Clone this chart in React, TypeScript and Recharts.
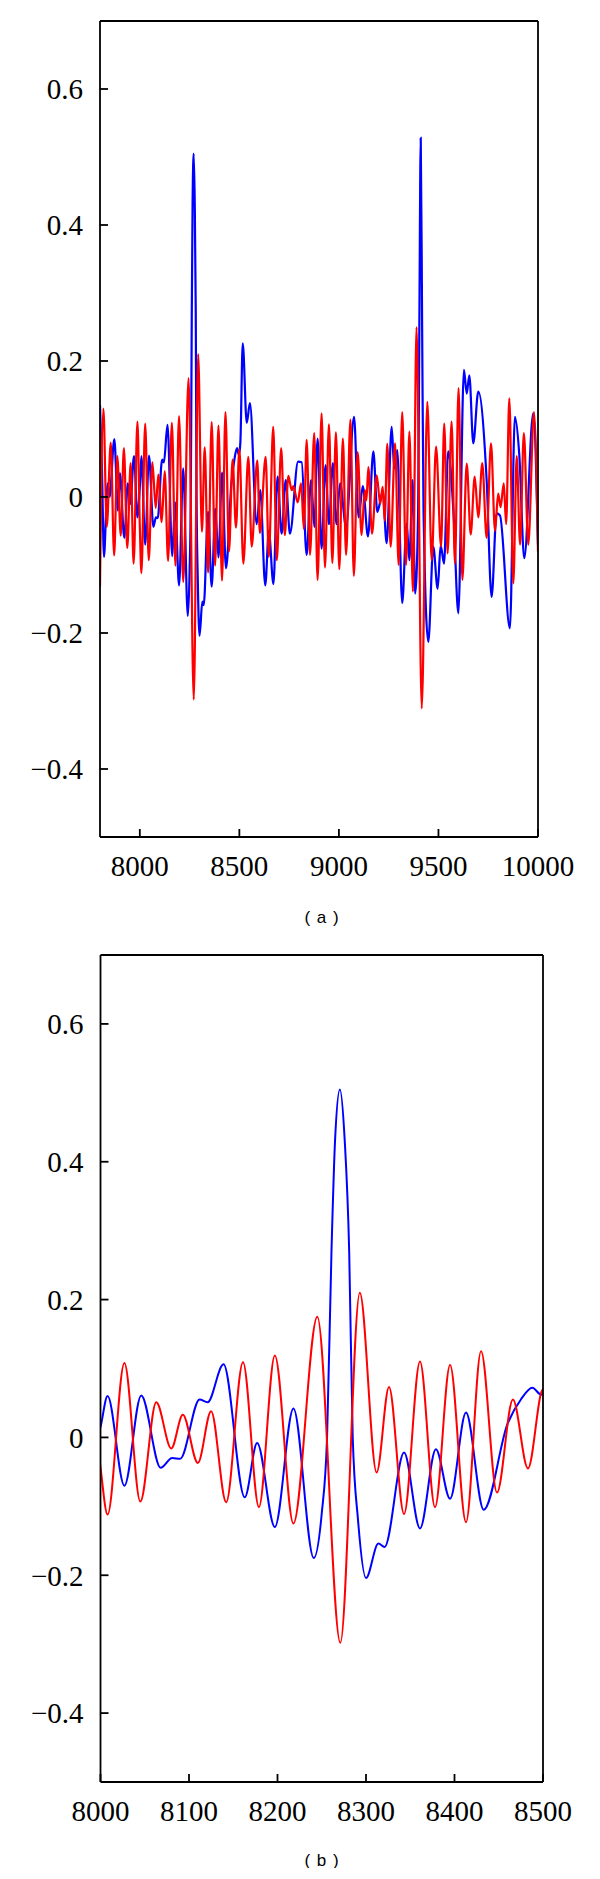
import React from "react";
import { LineChart, Line, XAxis, YAxis } from "recharts";

// ---- data ----
const blueX = [
  7800, 7810, 7820, 7832, 7838, 7848, 7872, 7890, 7900, 7922, 7940, 7952, 7971, 7988,
  8000, 8008, 8027, 8046, 8068, 8081, 8090, 8112, 8121, 8139, 8163, 8177, 8197, 8218,
  8241, 8250, 8256, 8261, 8265, 8270.5, 8276, 8281, 8285, 8291, 8300, 8314, 8321, 8343,
  8361, 8379, 8395, 8413, 8433, 8460, 8475, 8488, 8498, 8505, 8517, 8537, 8553, 8587,
  8605, 8630, 8648, 8671, 8692, 8712, 8733, 8754, 8795, 8813, 8838, 8860, 8877, 8893,
  8913, 8933, 8950, 8970, 8988, 9006, 9036, 9076, 9099, 9120, 9146, 9173, 9193, 9220,
  9240, 9265, 9278, 9293, 9318, 9340, 9354, 9370, 9383, 9398, 9404, 9411, 9418, 9425,
  9449, 9474, 9496, 9511, 9528, 9549, 9575, 9600, 9628, 9642, 9655, 9675, 9700, 9742,
  9767, 9792, 9809, 9859, 9884, 9906, 9931, 9976, 10000,
];
const blueY = [
  0.135, 0.04, -0.088, -0.01, 0.02, 0.0, 0.085, -0.02, 0.035, -0.06, 0.02, -0.01, 0.06, -0.03,
  0.015, 0.06, -0.07, 0.061, -0.044, -0.03, -0.031, 0.055, 0.051, 0.106, -0.087, -0.008, -0.13, 0.042,
  -0.175, -0.11, 0.0, 0.27, 0.43, 0.505, 0.43, 0.27, 0.0, -0.12, -0.204, -0.154, -0.159, -0.022,
  -0.132, -0.017, -0.089, 0.036, -0.105, 0.02, 0.055, 0.072, 0.062, 0.08, 0.226, 0.109, 0.138, -0.04,
  0.01, -0.13, -0.05, -0.128, 0.03, -0.054, 0.025, -0.054, 0.052, 0.051, -0.085, 0.025, -0.044, 0.086,
  -0.076, 0.047, -0.04, 0.05, -0.04, 0.02, -0.044, 0.118, -0.03, 0.016, -0.058, 0.067, -0.022, 0.008,
  -0.068, 0.103, 0.042, 0.069, -0.156, -0.039, -0.093, 0.025, -0.142, -0.02, 0.25, 0.528, 0.25, -0.02,
  -0.213, -0.073, -0.135, -0.071, -0.098, 0.067, -0.02, -0.171, 0.187, 0.152, 0.179, 0.079, 0.155, 0.025,
  -0.147, -0.024, -0.027, -0.193, 0.118, 0.062, -0.09, 0.123, -0.07,
];

const redX = [
  7800, 7817, 7834, 7854, 7871, 7887, 7904, 7920, 7937, 7954, 7969, 7988, 8000, 8008,
  8027, 8045, 8063, 8080, 8093, 8110, 8125, 8142, 8161, 8179, 8197, 8218, 8245, 8271,
  8293, 8312, 8326, 8343, 8361, 8378, 8395, 8413, 8430, 8448, 8466, 8483, 8500, 8520,
  8545, 8562, 8590, 8603, 8632, 8648, 8670, 8688, 8710, 8728, 8746, 8763, 8771, 8793,
  8810, 8824, 8838, 8855, 8876, 8893, 8913, 8930, 8950, 8967, 8985, 9002, 9020, 9036,
  9058, 9075, 9094, 9114, 9130, 9138, 9148, 9166, 9190, 9207, 9220, 9230, 9243, 9260,
  9282, 9300, 9318, 9337, 9354, 9372, 9390, 9416, 9444, 9466, 9488, 9513, 9529, 9546,
  9566, 9583, 9601, 9620, 9642, 9662, 9682, 9700, 9720, 9742, 9764, 9784, 9800, 9812,
  9828, 9840, 9856, 9876, 9893, 9910, 9929, 9951, 9980, 10000,
];
const redY = [
  -0.132, 0.13, -0.044, 0.08, -0.086, 0.06, -0.057, 0.072, -0.075, 0.05, -0.098, 0.111, -0.043, -0.112,
  0.108, -0.093, 0.051, -0.016, 0.033, -0.037, 0.038, -0.094, 0.109, -0.101, 0.119, -0.125, 0.175, -0.298,
  0.21, -0.051, 0.073, -0.111, 0.11, -0.101, 0.105, -0.123, 0.125, -0.08, 0.055, -0.045, 0.07, -0.098,
  0.059, -0.073, 0.054, -0.053, 0.059, -0.088, 0.103, -0.093, 0.072, -0.056, 0.031, 0.01, 0.016, -0.008,
  0.02, -0.047, 0.084, -0.085, 0.094, -0.122, 0.123, -0.104, 0.107, -0.097, 0.095, -0.106, 0.086, -0.085,
  0.114, -0.116, 0.066, -0.056, 0.01, -0.005, 0.044, -0.054, 0.032, -0.01, 0.015, -0.035, 0.078, -0.073,
  0.079, -0.1, 0.125, -0.1, 0.096, -0.139, 0.25, -0.311, 0.14, -0.093, 0.074, -0.073, 0.108, -0.083,
  0.111, -0.098, 0.16, -0.122, 0.049, -0.055, 0.03, -0.03, 0.05, -0.06, 0.079, -0.05, 0.005, -0.015,
  0.02, -0.04, 0.145, -0.127, 0.06, -0.07, 0.094, -0.07, 0.125, -0.08,
];

const yTicks = [-0.4, -0.2, 0, 0.2, 0.4, 0.6];
const yDomain = [-0.5, 0.7];
const xTicksA = [8000, 8500, 9000, 9500, 10000];
const xDomainA = [7800, 10000];
const xTicksB = [8000, 8100, 8200, 8300, 8400, 8500];
const xDomainB = [8000, 8500];
const captionA = "( a )";
const captionB = "( b )";

const blueData = blueX.map((x, i) => ({ x, y: blueY[i] }));
const redData = redX.map((x, i) => ({ x, y: redY[i] }));

const fmtY = (v: number) =>
  Math.abs(v) < 1e-9 ? "0" : (v < 0 ? "\u2212" : "") + Math.abs(v).toFixed(1);

const axisStroke = { stroke: "#000", strokeWidth: 1.8 };
const tickFont = { fill: "#000", fontSize: 29, fontFamily: "'Liberation Serif', 'Times New Roman', serif" };

type PanelProps = {
  width: number;
  height: number;
  topH: number;
  bottomH: number;
  leftW: number;
  rightW: number;
  xDomain: number[];
  xTicks: number[];
  lineW: number;
};

function Panel(p: PanelProps) {
  return (
    <LineChart width={p.width} height={p.height} margin={{ top: 0, right: 0, bottom: 0, left: 0 }}>
      <XAxis
        xAxisId="b"
        type="number"
        dataKey="x"
        orientation="bottom"
        domain={p.xDomain}
        ticks={p.xTicks}
        allowDataOverflow
        interval={0}
        height={p.bottomH}
        tickSize={-8}
        tickMargin={26}
        axisLine={axisStroke}
        tickLine={axisStroke}
        tick={tickFont}
      />
      <XAxis
        xAxisId="t"
        type="number"
        dataKey="x"
        orientation="top"
        domain={p.xDomain}
        ticks={p.xTicks}
        allowDataOverflow
        interval={0}
        height={p.topH}
        tickSize={-8}
        axisLine={axisStroke}
        tickLine={axisStroke}
        tick={false}
      />
      <YAxis
        yAxisId="l"
        type="number"
        orientation="left"
        domain={yDomain}
        ticks={yTicks}
        allowDataOverflow
        interval={0}
        width={p.leftW}
        tickSize={-8}
        tickMargin={25}
        tickFormatter={fmtY}
        axisLine={axisStroke}
        tickLine={axisStroke}
        tick={tickFont}
      />
      <YAxis
        yAxisId="r"
        type="number"
        orientation="right"
        domain={yDomain}
        ticks={yTicks}
        allowDataOverflow
        interval={0}
        width={p.rightW}
        tickSize={-8}
        axisLine={axisStroke}
        tickLine={axisStroke}
        tick={false}
      />
      <Line
        xAxisId="b"
        yAxisId="l"
        data={blueData}
        dataKey="y"
        type="monotone"
        stroke="#0000ff"
        strokeWidth={p.lineW}
        dot={false}
        activeDot={false}
        isAnimationActive={false}
      />
      <Line
        xAxisId="b"
        yAxisId="l"
        data={redData}
        dataKey="y"
        type="monotone"
        stroke="#ff0000"
        strokeWidth={p.lineW}
        dot={false}
        activeDot={false}
        isAnimationActive={false}
      />
    </LineChart>
  );
}

const captionStyle: React.CSSProperties = {
  position: "absolute",
  left: 264,
  width: 100,
  textAlign: "center",
  fontFamily: "'Liberation Sans', Arial, sans-serif",
  fontSize: 17,
  lineHeight: "20px",
  letterSpacing: 1,
  color: "#000",
};

export default function App() {
  return (
    <div style={{ position: "relative", width: 592, height: 1860, background: "#fff" }}>
      <div style={{ position: "absolute", left: 0, top: 0 }}>
        <Panel width={592} height={940} topH={13} bottomH={111} leftW={92} rightW={62}
          xDomain={xDomainA} xTicks={xTicksA} lineW={2.2} />
      </div>
      <div style={{ ...captionStyle, top: 900 }}>{captionA}</div>
      <div style={{ position: "absolute", left: 0, top: 940 }}>
        <Panel width={592} height={912} topH={7} bottomH={78} leftW={92.5} rightW={57}
          xDomain={xDomainB} xTicks={xTicksB} lineW={2} />
      </div>
      <div style={{ ...captionStyle, top: 1843 }}>{captionB}</div>
    </div>
  );
}
